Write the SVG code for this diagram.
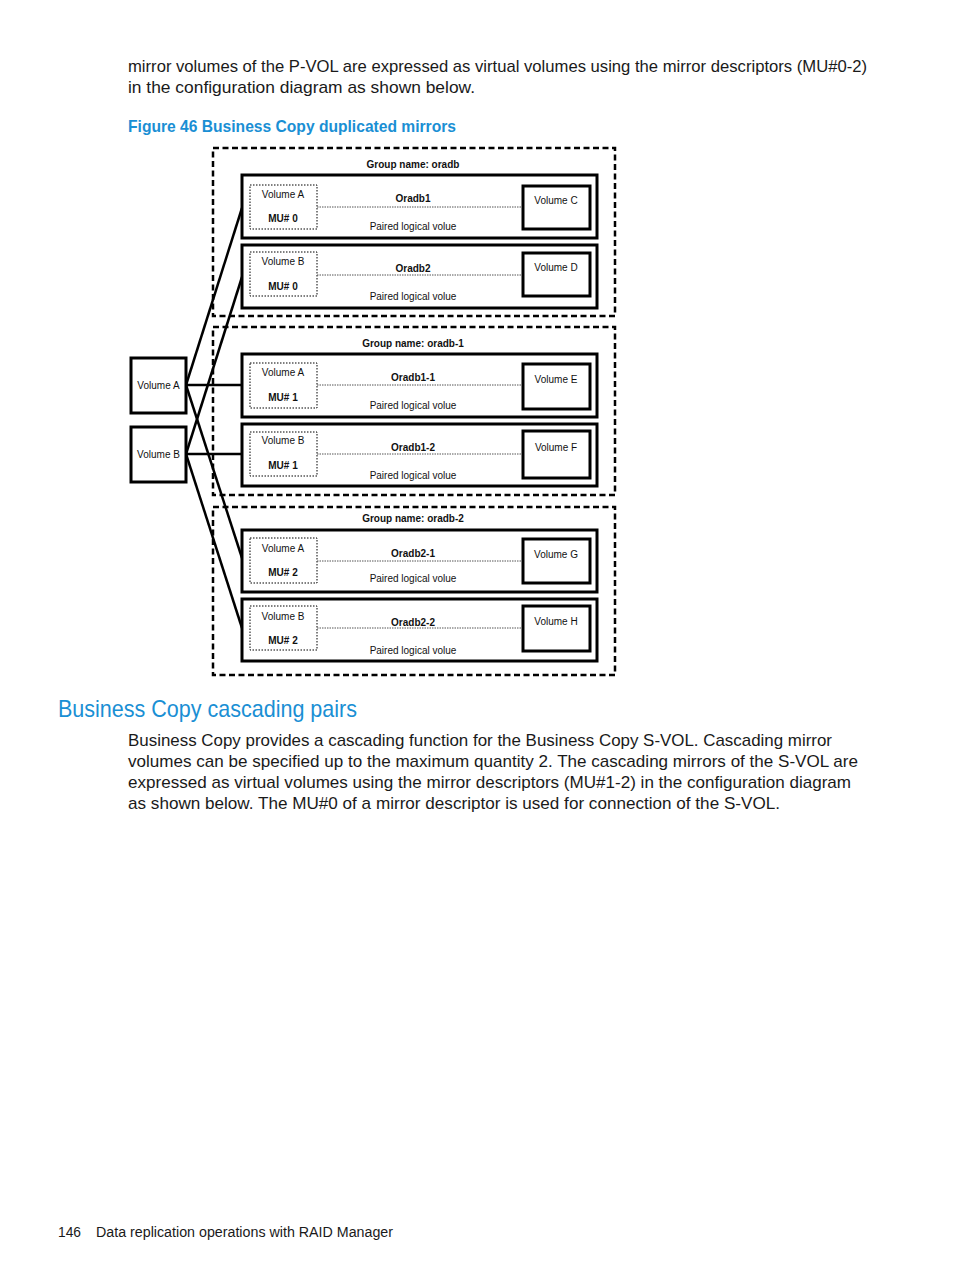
<svg xmlns="http://www.w3.org/2000/svg" width="954" height="1271" viewBox="0 0 954 1271">
<style>
.body{font-family:"Liberation Sans",Arial,sans-serif;font-size:17px;fill:#1a1a1a}
.blue{fill:#1a8fd4;font-family:"Liberation Sans",Arial,sans-serif}
.t{font-family:"Liberation Sans",Arial,sans-serif;font-size:10px;fill:#111;text-anchor:middle}
.b{font-weight:bold}
.grp{fill:none;stroke:#000;stroke-width:2.5;stroke-dasharray:6,3.5}
.pair{fill:#fff;stroke:#000;stroke-width:3}
.vol{fill:#fff;stroke:#000;stroke-width:3}
.dot{fill:none;stroke:#000;stroke-width:1;stroke-dasharray:1.5,1.5}
.dl{stroke:#555;stroke-width:1;stroke-dasharray:1.5,1}
.con{stroke:#000;stroke-width:2.5;fill:none}
</style>
<rect width="954" height="1271" fill="#fff"/>
<text class="body" x="128" y="72" textLength="739" lengthAdjust="spacingAndGlyphs">mirror volumes of the P-VOL are expressed as virtual volumes using the mirror descriptors (MU#0-2)</text>
<text class="body" x="128" y="93" textLength="347" lengthAdjust="spacingAndGlyphs">in the configuration diagram as shown below.</text>
<text class="blue b" x="128" y="132" font-size="17" textLength="328" lengthAdjust="spacingAndGlyphs">Figure 46 Business Copy duplicated mirrors</text>

<g id="group-oradb">
<rect class="grp" x="213" y="148" width="402" height="168"/>
<text class="t b" x="413" y="168">Group name: oradb</text>
</g>
<g id="group-oradb-1">
<rect class="grp" x="213" y="327" width="402" height="168"/>
<text class="t b" x="413" y="347">Group name: oradb-1</text>
</g>
<g id="group-oradb-2">
<rect class="grp" x="213" y="507" width="402" height="168"/>
<text class="t b" x="413" y="522">Group name: oradb-2</text>
</g>

<g id="connectors">
<line class="con" x1="186" y1="385" x2="242" y2="208"/>
<line class="con" x1="186" y1="454" x2="242" y2="277"/>
<line class="con" x1="186" y1="385" x2="242" y2="385"/>
<line class="con" x1="186" y1="454" x2="242" y2="454"/>
<line class="con" x1="186" y1="385" x2="242" y2="558"/>
<line class="con" x1="186" y1="454" x2="242" y2="628"/>
</g>

<g id="pair-oradb1">
<rect class="pair" x="242" y="175" width="355" height="63"/>
<rect class="dot" x="250" y="185" width="67" height="44"/>
<line class="dl" x1="317" y1="207" x2="523" y2="207"/>
<rect class="vol" x="523" y="186" width="67" height="43"/>
<text class="t" x="283" y="198">Volume A</text>
<text class="t b" x="283" y="222">MU# 0</text>
<text class="t b" x="413" y="202">Oradb1</text>
<text class="t" x="413" y="230">Paired logical volue</text>
<text class="t" x="556" y="204">Volume C</text>
</g>
<g id="pair-oradb2">
<rect class="pair" x="242" y="245" width="355" height="63"/>
<rect class="dot" x="250" y="252" width="67" height="44"/>
<line class="dl" x1="317" y1="275" x2="523" y2="275"/>
<rect class="vol" x="523" y="253" width="67" height="43"/>
<text class="t" x="283" y="265">Volume B</text>
<text class="t b" x="283" y="290">MU# 0</text>
<text class="t b" x="413" y="272">Oradb2</text>
<text class="t" x="413" y="300">Paired logical volue</text>
<text class="t" x="556" y="271">Volume D</text>
</g>

<g id="pair-oradb1-1">
<rect class="pair" x="242" y="354" width="355" height="63"/>
<rect class="dot" x="250" y="363" width="67" height="45"/>
<line class="dl" x1="317" y1="385" x2="523" y2="385"/>
<rect class="vol" x="523" y="364" width="67" height="45"/>
<text class="t" x="283" y="376">Volume A</text>
<text class="t b" x="283" y="401">MU# 1</text>
<text class="t b" x="413" y="381">Oradb1-1</text>
<text class="t" x="413" y="409">Paired logical volue</text>
<text class="t" x="556" y="383">Volume E</text>
</g>
<g id="pair-oradb1-2">
<rect class="pair" x="242" y="424" width="355" height="62"/>
<rect class="dot" x="250" y="432" width="67" height="44"/>
<line class="dl" x1="317" y1="454" x2="523" y2="454"/>
<rect class="vol" x="523" y="431" width="67" height="47"/>
<text class="t" x="283" y="444">Volume B</text>
<text class="t b" x="283" y="469">MU# 1</text>
<text class="t b" x="413" y="451">Oradb1-2</text>
<text class="t" x="413" y="479">Paired logical volue</text>
<text class="t" x="556" y="451">Volume F</text>
</g>

<g id="pair-oradb2-1">
<rect class="pair" x="242" y="530" width="355" height="62"/>
<rect class="dot" x="250" y="538" width="67" height="45"/>
<line class="dl" x1="317" y1="561" x2="523" y2="561"/>
<rect class="vol" x="523" y="539" width="67" height="44"/>
<text class="t" x="283" y="552">Volume A</text>
<text class="t b" x="283" y="576">MU# 2</text>
<text class="t b" x="413" y="557">Oradb2-1</text>
<text class="t" x="413" y="582">Paired logical volue</text>
<text class="t" x="556" y="558">Volume G</text>
</g>
<g id="pair-oradb2-2">
<rect class="pair" x="242" y="599" width="355" height="62"/>
<rect class="dot" x="250" y="606" width="67" height="44"/>
<line class="dl" x1="317" y1="628" x2="523" y2="628"/>
<rect class="vol" x="523" y="606" width="67" height="45"/>
<text class="t" x="283" y="620">Volume B</text>
<text class="t b" x="283" y="644">MU# 2</text>
<text class="t b" x="413" y="626">Oradb2-2</text>
<text class="t" x="413" y="654">Paired logical volue</text>
<text class="t" x="556" y="625">Volume H</text>
</g>

<g id="volume-a">
<rect class="vol" x="131" y="358" width="55" height="55" stroke-width="2.5"/>
<text class="t" x="158.5" y="389">Volume A</text>
</g>
<g id="volume-b">
<rect class="vol" x="131" y="427" width="55" height="55" stroke-width="2.5"/>
<text class="t" x="158.5" y="458">Volume B</text>
</g>

<text class="blue" x="58" y="717" font-size="24" textLength="299" lengthAdjust="spacingAndGlyphs">Business Copy cascading pairs</text>
<text class="body" x="128" y="746" textLength="704" lengthAdjust="spacingAndGlyphs">Business Copy provides a cascading function for the Business Copy S-VOL. Cascading mirror</text>
<text class="body" x="128" y="767" textLength="730" lengthAdjust="spacingAndGlyphs">volumes can be specified up to the maximum quantity 2. The cascading mirrors of the S-VOL are</text>
<text class="body" x="128" y="788" textLength="723" lengthAdjust="spacingAndGlyphs">expressed as virtual volumes using the mirror descriptors (MU#1-2) in the configuration diagram</text>
<text class="body" x="128" y="809" textLength="652" lengthAdjust="spacingAndGlyphs">as shown below. The MU#0 of a mirror descriptor is used for connection of the S-VOL.</text>

<text class="body" x="58" y="1237" font-size="14" style="font-size:14px" textLength="23" lengthAdjust="spacingAndGlyphs">146</text>
<text class="body" x="96" y="1237" style="font-size:14px" textLength="297" lengthAdjust="spacingAndGlyphs">Data replication operations with RAID Manager</text>
</svg>
